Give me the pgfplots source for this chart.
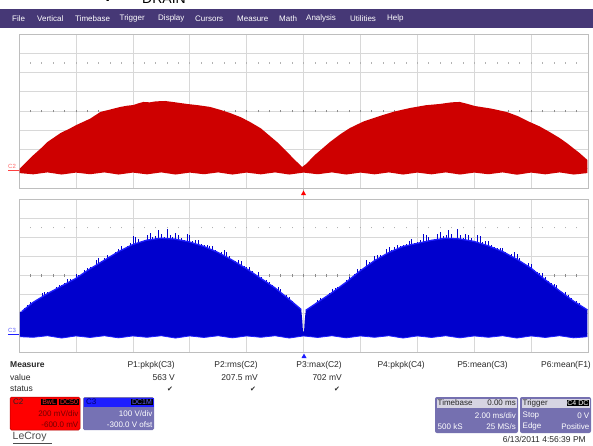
\documentclass[border=0pt]{standalone}
\usepackage{fontspec}
\setmainfont{Liberation Sans}
\newfontfamily\dejavu{DejaVu Sans}
\usepackage{pgfplots}
\pgfplotsset{compat=1.18}
\definecolor{menubar}{RGB}{70,56,118}
\definecolor{scred}{RGB}{206,0,0}
\definecolor{scblue}{RGB}{0,0,205}
\definecolor{brblue}{RGB}{30,30,255}
\definecolor{c3body}{RGB}{118,114,180}
\definecolor{tbody}{RGB}{117,112,176}
\definecolor{thead}{RGB}{214,212,226}
\definecolor{gridc}{RGB}{216,216,216}
\definecolor{framec}{RGB}{190,190,190}
\definecolor{txt}{RGB}{40,40,40}
\newcommand\fs[1]{\fontsize{#1}{#1}\selectfont}
\pgfplotsset{scope/.style={
  scale only axis, width=569pt,
  xmin=-10, xmax=10,
  xtick={-8,-6,-4,-2,0,2,4,6,8},
  xticklabels={}, yticklabels={},
  grid=major, major grid style={draw=gridc, line width=0.6pt},
  major tick length=0pt,
  axis line style={draw=framec, line width=0.9pt},
}}
\begin{document}
\begin{tikzpicture}[x=1pt,y=1pt]
\path[use as bounding box] (0,0) rectangle (593,445);
\fill[white] (0,0) rectangle (593,445);
\draw[black!28, line width=0.9pt] (303.5,93) -- (303.5,411);

% ---------- top panel : C2 (red) ----------
\begin{axis}[scope, name=top, at={(19pt,257pt)}, anchor=south west, height=154pt,
  ymin=-0.2, ymax=1.4, ytick={0,0.2,0.4,0.6,0.8,1.0,1.2}]
\pgfplotsinvokeforeach{-9.6,-9.2,...,9.7}{
  \draw[black!45, line width=0.6pt] (axis cs:#1,0.585) -- (axis cs:#1,0.615);
  \draw[black!30, line width=0.6pt] (axis cs:#1,1.093) -- (axis cs:#1,1.107);
}
\addplot[draw=none, fill=scred] coordinates {
 (-9.98,-0.045) (-9.98,0.0) (-9.84,0.04) (-9.49,0.143) (-9.2,0.22) (-9.0,0.278)
 (-8.54,0.371) (-8.2,0.42) (-7.98,0.455) (-7.5,0.52) (-7.14,0.59) (-6.8,0.615)
 (-6.44,0.642) (-6.2,0.655) (-5.98,0.662) (-5.8,0.68) (-5.63,0.694) (-5.4,0.69)
 (-5.2,0.70) (-4.86,0.704) (-4.5,0.69) (-4.09,0.673) (-3.7,0.66) (-3.28,0.642)
 (-2.9,0.61) (-2.58,0.579) (-2.2,0.535) (-1.88,0.486) (-1.5,0.42) (-1.18,0.34)
 (-0.9,0.27) (-0.65,0.195) (-0.30,0.091) (-0.05,0.018) (0.09,0.049) (0.40,0.143)
 (0.93,0.278) (1.3,0.36) (1.63,0.423) (2.1,0.49) (2.68,0.548) (3.2,0.595)
 (3.74,0.631) (4.3,0.66) (4.79,0.673) (5.2,0.69) (5.49,0.694) (5.75,0.675)
 (6.02,0.652) (6.6,0.625) (7.14,0.59) (7.55,0.545) (7.95,0.486) (8.3,0.44)
 (8.65,0.382) (9.0,0.32) (9.25,0.268) (9.5,0.21) (9.70,0.164) (9.98,0.091)
 (9.98,-0.045) (9.5,-0.06) (9.0,-0.038) (8.5,-0.058) (8.0,-0.04) (7.5,-0.062)
 (7.0,-0.038) (6.5,-0.057) (6.0,-0.04) (5.5,-0.06) (5.0,-0.038) (4.5,-0.058)
 (4.0,-0.04) (3.5,-0.06) (3.0,-0.038) (2.5,-0.058) (2.0,-0.04) (1.5,-0.06)
 (1.0,-0.038) (0.5,-0.057) (0.0,-0.04) (-0.5,-0.06) (-1.0,-0.038) (-1.5,-0.058)
 (-2.0,-0.04) (-2.5,-0.06) (-3.0,-0.038) (-3.5,-0.057) (-4.0,-0.04) (-4.5,-0.06)
 (-5.0,-0.038) (-5.5,-0.058) (-6.0,-0.04) (-6.5,-0.06) (-7.0,-0.038) (-7.5,-0.057)
 (-8.0,-0.04) (-8.5,-0.06) (-9.0,-0.038) (-9.5,-0.058)
} -- cycle;
\end{axis}

% ---------- bottom panel : C3 (blue) ----------
\begin{axis}[scope, name=bot, at={(19pt,93pt)}, anchor=south west, height=153pt,
  ymin=-100, ymax=700, ytick={0,100,200,300,400,500,600}]
\pgfplotsinvokeforeach{-9.6,-9.2,...,9.7}{
  \draw[black!45, line width=0.6pt] (axis cs:#1,292) -- (axis cs:#1,308);
  \draw[black!30, line width=0.6pt] (axis cs:#1,546) -- (axis cs:#1,554);
}
% noise spikes above the envelope
\addplot[ycomb, draw=scblue, line width=0.5pt] coordinates {
 (-9.8,129) (-9.6,162) (-9.4,172) (-9.2,206) (-9.0,213) (-8.8,223) (-8.6,252)
 (-8.4,260) (-8.2,280) (-8.0,307) (-7.8,309) (-7.6,337) (-7.4,346) (-7.2,389)
 (-7.0,394) (-6.8,404) (-6.6,424) (-6.4,453) (-6.2,453) (-6.0,504) (-5.8,489)
 (-5.6,484) (-5.4,521) (-5.2,506) (-5.0,519) (-4.8,543) (-4.6,500) (-4.4,514)
 (-4.2,484) (-4.0,513) (-3.8,486) (-3.6,465) (-3.4,458) (-3.2,454) (-3.0,424)
 (-2.8,433) (-2.6,401) (-2.4,374) (-2.2,377) (-2.0,346) (-1.8,322) (-1.6,317)
 (-1.4,279) (-1.2,267) (-1.0,236) (-0.8,228) (-0.6,196) (-0.4,166)
 (-9.7,146) (-9.5,163) (-9.3,185) (-9.1,212) (-8.9,214) (-8.7,241) (-8.5,250)
 (-8.3,281) (-8.1,279) (-7.9,304) (-7.7,329) (-7.5,345) (-7.3,381) (-7.1,377)
 (-6.9,406) (-6.7,411) (-6.5,440) (-6.3,445) (-6.1,471) (-5.9,502) (-5.7,478)
 (-5.5,511) (-5.3,500) (-5.1,538) (-4.9,499) (-4.7,511) (-4.5,521) (-4.3,498)
 (-4.1,518) (-3.9,479) (-3.7,485) (-3.5,458) (-3.3,455) (-3.1,431) (-2.9,423)
 (-2.7,421) (-2.5,381) (-2.3,380) (-2.1,352) (-1.9,345) (-1.7,307) (-1.5,294)
 (-1.3,279) (-1.1,251) (-0.9,241) (-0.7,203) (-0.5,186)
 (0.4,155) (0.6,184) (0.8,193) (1.0,229) (1.2,240) (1.4,256) (1.6,292) (1.8,308)
 (2.0,336) (2.2,381) (2.4,373) (2.6,405) (2.8,405) (3.0,447) (3.2,447) (3.4,454)
 (3.6,467) (3.8,492) (4.0,474) (4.2,516) (4.4,499) (4.6,490) (4.8,525) (5.0,510)
 (5.2,517) (5.4,542) (5.6,497) (5.8,510) (6.0,481) (6.2,507) (6.4,480) (6.6,457)
 (6.8,445) (7.0,446) (7.2,413) (7.4,422) (7.6,389) (7.8,360) (8.0,362) (8.2,319)
 (8.4,312) (8.6,270) (8.8,255) (9.0,222) (9.2,215) (9.4,183) (9.6,165) (9.8,142)
 (0.5,170) (0.7,183) (0.9,207) (1.1,237) (1.3,244) (1.5,277) (1.7,294) (1.9,333)
 (2.1,340) (2.3,370) (2.5,400) (2.7,405) (2.9,440) (3.1,433) (3.3,457) (3.5,458)
 (3.7,481) (3.9,472) (4.1,487) (4.3,513) (4.5,486) (4.7,515) (4.9,504) (5.1,539)
 (5.3,498) (5.5,510) (5.7,517) (5.9,495) (6.1,514) (6.3,474) (6.5,479) (6.7,449)
 (6.9,446) (7.1,422) (7.3,412) (7.5,410) (7.7,368) (7.9,366) (8.1,330) (8.3,311)
 (8.5,291) (8.7,260) (8.9,250) (9.1,213) (9.3,198) (9.5,168) (9.7,154)
};
\addplot[draw=none, fill=scblue] coordinates {
 (-9.97,-20) (-9.97,110) (-9.9,112) (-9.5,160) (-9.0,205) (-8.5,245) (-8.0,285)
 (-7.5,335) (-7.0,380) (-6.5,425) (-6.0,462) (-5.5,485) (-5.0,495) (-4.5,490)
 (-4.0,475) (-3.5,452) (-3.0,420) (-2.5,380) (-2.0,335) (-1.5,285) (-1.0,235)
 (-0.5,175) (-0.08,122) (-0.04,60) (-0.02,8) (0.02,8) (0.04,60) (0.08,118)
 (0.5,160) (1.0,210) (1.5,265) (2.0,325) (2.5,378) (3.0,420) (3.5,452) (4.0,468)
 (4.5,484) (5.0,495) (5.5,491) (6.0,478) (6.5,455) (7.0,425) (7.5,385) (8.0,338)
 (8.5,277) (9.0,220) (9.5,165) (9.98,120)
 (9.98,-20) (9.5,-26) (9.0,-15) (8.5,-24) (8.0,-16) (7.5,-27) (7.0,-15) (6.5,-23)
 (6.0,-16) (5.5,-26) (5.0,-15) (4.5,-24) (4.0,-16) (3.5,-27) (3.0,-15) (2.5,-23)
 (2.0,-16) (1.5,-26) (1.0,-15) (0.5,-24) (0.0,-16) (-0.5,-27) (-1.0,-15) (-1.5,-23)
 (-2.0,-16) (-2.5,-26) (-3.0,-15) (-3.5,-24) (-4.0,-16) (-4.5,-27) (-5.0,-15)
 (-5.5,-23) (-6.0,-16) (-6.5,-26) (-7.0,-15) (-7.5,-24) (-8.0,-16) (-8.5,-27)
 (-9.0,-15) (-9.5,-23)
} -- cycle;
\addplot[draw=brblue, line width=1.3pt] coordinates {
 (-9.9,112) (-9.5,160) (-9.0,205) (-8.5,245) (-8.0,285) (-7.5,335) (-7.0,380)
 (-6.5,425) (-6.0,462) (-5.5,485) (-5.0,495) (-4.5,490) (-4.0,475) (-3.5,452)
 (-3.0,420) (-2.5,380) (-2.0,335) (-1.5,285) (-1.0,235) (-0.5,175) (-0.08,122)
};
\addplot[draw=brblue, line width=1.3pt] coordinates {
 (0.08,118) (0.5,160) (1.0,210) (1.5,265) (2.0,325) (2.5,378) (3.0,420) (3.5,452)
 (4.0,468) (4.5,484) (5.0,495) (5.5,491) (6.0,478) (6.5,455) (7.0,425) (7.5,385)
 (8.0,338) (8.5,277) (9.0,220) (9.5,165) (9.98,120)
};
\addplot[draw=brblue, line width=0.8pt] coordinates {
 (-9.97,-20) (-9.5,-23) (-9.0,-15) (-8.5,-27) (-8.0,-16) (-7.5,-24) (-7.0,-15)
 (-6.5,-26) (-6.0,-16) (-5.5,-23) (-5.0,-15) (-4.5,-27) (-4.0,-16) (-3.5,-24)
 (-3.0,-15) (-2.5,-26) (-2.0,-16) (-1.5,-23) (-1.0,-15) (-0.5,-27) (0.0,-16)
 (0.5,-24) (1.0,-15) (1.5,-26) (2.0,-16) (2.5,-23) (3.0,-15) (3.5,-27) (4.0,-16)
 (4.5,-24) (5.0,-15) (5.5,-26) (6.0,-16) (6.5,-23) (7.0,-15) (7.5,-27) (8.0,-16)
 (8.5,-24) (9.0,-15) (9.5,-26) (9.98,-20)
};
\end{axis}

% ---------- screen furniture (image pixel coordinates) ----------
\begin{scope}[shift={(0pt,445pt)}, y=-1pt]
 % clipped document text above the screenshot
 \begin{scope}
  \clip (0,0) rectangle (593,9);
  \node[anchor=base west, inner sep=0, font=\fs{20}] at (101,1.5) {V};
  \node[anchor=base west, inner sep=0, font=\fs{14}] at (142,4) {DRAIN};
 \end{scope}
 % menu bar
 \fill[menubar] (0,9) rectangle (593,28);
 \begin{scope}[every node/.style={anchor=west, inner sep=0, text=white, font=\fs{8}}]
  \node at (12,18.5) {File};
  \node at (37,18.5) {Vertical};
  \node at (75,18.5) {Timebase};
  \node at (119.5,18.5) {Trigger};
  \node at (158,18.5) {Display};
  \node at (195,18.5) {Cursors};
  \node at (237,18.5) {Measure};
  \node at (279,18.5) {Math};
  \node at (306,18.5) {Analysis};
  \node at (350,18.5) {Utilities};
  \node at (387,18.5) {Help};
 \end{scope}
 % channel ground markers
 \draw[red!75, line width=0.8pt] (8,170) -- (19,170);
 \node[anchor=south west, inner sep=0, text=red!60, font=\fs{6}] at (8,169) {C2};
 \draw[brblue, line width=0.8pt] (8,334) -- (19,334);
 \node[anchor=south west, inner sep=0, text=brblue!70, font=\fs{6}] at (8,333) {C3};
 % trigger position markers
 \fill[red] (301,195) -- (306,195) -- (303.5,190.5) -- cycle;
 \fill[brblue] (301.5,358) -- (306.5,358) -- (304,353.5) -- cycle;
 % measurement table
 \begin{scope}[every node/.style={inner sep=0, text=txt, font=\fs{8.5}}]
  \node[anchor=west, font=\fs{8.5}\bfseries] at (10,365) {Measure};
  \node[anchor=west] at (10,377.5) {value};
  \node[anchor=west] at (10,389) {status};
  \node[anchor=east] at (175,365) {P1:pkpk(C3)};
  \node[anchor=east] at (258,365) {P2:rms(C2)};
  \node[anchor=east] at (342,365) {P3:max(C2)};
  \node[anchor=east] at (425,365) {P4:pkpk(C4)};
  \node[anchor=east] at (508,365) {P5:mean(C3)};
  \node[anchor=east] at (591,365) {P6:mean(F1)};
  \node[anchor=east] at (175,377.5) {563 V};
  \node[anchor=east] at (258,377.5) {207.5 mV};
  \node[anchor=east] at (342,377.5) {702 mV};
  \node[font=\dejavu\fs{7}] at (170,389.5) {✔};
  \node[font=\dejavu\fs{7}] at (253,389.5) {✔};
  \node[font=\dejavu\fs{7}] at (337,389.5) {✔};
 \end{scope}
 % C2 descriptor box
 \fill[red, rounded corners=1.5pt] (10,397) rectangle (80,430);
 \draw[red!70!black, rounded corners=1.5pt, line width=0.5pt] (10,397) rectangle (80,430);
 \begin{scope}[every node/.style={inner sep=0, font=\fs{8}}]
  \node[anchor=west, text=black!85] at (13,402) {C2};
  \node[anchor=east, fill=black, text=red!85, font=\fs{7}, inner sep=0.9pt] at (57,402) {BwL};
  \node[anchor=east, fill=black, text=red!85, font=\fs{7}, inner sep=0.9pt] at (79,402) {DC50};
  \node[anchor=east, text=red!45!black] at (78.5,414) {200 mV/div};
  \node[anchor=east, text=red!45!black] at (78.5,424.5) {-600.0 mV};
 \end{scope}
 % C3 descriptor box
 \fill[c3body, rounded corners=1.5pt] (83,397) rectangle (154,430);
 \fill[brblue] (83.5,397.5) rectangle (153.5,406.5);
 \begin{scope}[every node/.style={inner sep=0, font=\fs{8}}]
  \node[anchor=west, text=blue!40!black] at (86,402) {C3};
  \node[anchor=east, fill=black, text=brblue!70!white, font=\fs{7}, inner sep=0.9pt] at (153,402) {DC1M};
  \node[anchor=east, text=white] at (152.5,414) {100 V/div};
  \node[anchor=east, text=white] at (152.5,424.5) {-300.0 V ofst};
 \end{scope}
 % Timebase box
 \fill[tbody, rounded corners=2pt] (435,397) rectangle (518,433);
 \fill[thead] (436.5,398.5) rectangle (516.5,407.5);
 % Trigger box
 \fill[tbody, rounded corners=2pt] (520,397) rectangle (591,433);
 \fill[thead] (521.5,398.5) rectangle (589.5,407.5);
 \begin{scope}[every node/.style={inner sep=0, font=\fs{8}}]
  \node[anchor=west, text=black!85] at (437.5,403) {Timebase};
  \node[anchor=east, text=black!85] at (516,403) {0.00 ms};
  \node[anchor=east, text=white] at (516,416) {2.00 ms/div};
  \node[anchor=west, text=white] at (437.5,426.5) {500 kS};
  \node[anchor=east, text=white] at (516,426.5) {25 MS/s};
  \node[anchor=west, text=black!85] at (522.5,403) {Trigger};
  \node[anchor=east, fill=black, text=white, font=\fs{7}, inner sep=0.9pt] at (589.5,403) {C4 DC};
  \node[anchor=west, text=white] at (522.5,416) {Stop};
  \node[anchor=east, text=white] at (589.5,416) {0 V};
  \node[anchor=west, text=white] at (522.5,426.5) {Edge};
  \node[anchor=east, text=white] at (589.5,426.5) {Positive};
 \end{scope}
 % footer
 \node[anchor=east, inner sep=0, text=txt, font=\fs{8.5}] at (586,439.5) {6/13/2011 4:56:39 PM};
 \node[anchor=west, inner sep=0, text=black!70, font=\fs{10.5}] at (12.5,437) {LeCroy};
 \draw[black!70, line width=0.7pt] (13,443) -- (52,443);
\end{scope}
\end{tikzpicture}
\end{document}
